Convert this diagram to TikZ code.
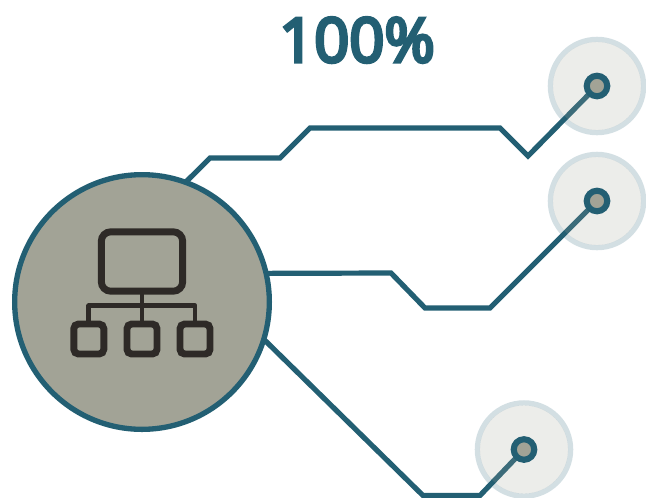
\documentclass[tikz,border=0pt]{standalone}
\usepackage{fontspec}
\newfontfamily\titlefont[FakeBold=5.5]{Open Sans}
\definecolor{teal}{HTML}{235F73}
\definecolor{stone}{HTML}{A2A396}
\definecolor{ink}{HTML}{2E2A27}
\pgfdeclarelayer{lines}
\pgfdeclarelayer{halos}
\pgfsetlayers{lines,halos,main}
\tikzset{
  hub/.style={circle,draw=teal,fill=stone,line width=4pt,minimum size=191pt,inner sep=0pt,outer sep=0pt},
  halo/.style={circle,fill=stone,fill opacity=.2,minimum size=66.2pt,inner sep=0pt,outer sep=0pt},
  ring/.style={draw=teal,draw opacity=.2,line width=3.9pt},
  dot/.style={circle,draw=teal,fill=stone,line width=4.6pt,minimum size=15.4pt,inner sep=0pt,outer sep=0pt},
  wire/.style={draw=teal,line width=3.9pt,line join=miter},
  bigbox/.style={draw=ink,line width=5.2pt,rounded corners=7pt,minimum width=61pt,minimum height=44.5pt,inner sep=0pt,outer sep=0pt},
  smallbox/.style={draw=ink,line width=5.2pt,rounded corners=3.5pt,minimum size=22.5pt,inner sep=0pt,outer sep=0pt},
  link/.style={draw=ink,line width=3.5pt,line join=round},
  title/.style={text=teal,font=\titlefont\fontsize{46}{46}\selectfont,anchor=base,inner sep=0pt}
}
\begin{document}
\begin{tikzpicture}[x=0.75pt,y=-0.75pt]
\useasboundingbox (0,0) rectangle (646,497);
\node[title] (pct) at (357,62) {100\%};
\node[hub] (main) at (142,302) {};
\node[bigbox] (top) at (142,261.5) {};
\node[smallbox] (s1) at (88.8,339) {};
\node[smallbox] (s2) at (142,339) {};
\node[smallbox] (s3) at (195,339) {};
\coordinate (bar) at (142,305.7);
\draw[link] (top.south) -- (s2.north);
\draw[link] (s1.north) -- (s1.north |- bar) -- (s3.north |- bar) -- (s3.north);
\node[dot] (d1) at (597,86) {};
\node[dot] (d2) at (597,201) {};
\node[dot] (d3) at (524,449.5) {};
\begin{pgfonlayer}{halos}
\node[halo] (h1) at (d1) {};
\node[halo] (h2) at (d2) {};
\node[halo] (h3) at (d3) {};
\draw[ring] (h1.center) circle[radius=35pt];
\draw[ring] (h2.center) circle[radius=35pt];
\draw[ring] (h3.center) circle[radius=35pt];
\end{pgfonlayer}
\begin{pgfonlayer}{lines}
\draw[wire] (main.70) -- (210,158) -- (280,158) -- (310,128) -- (500,128) -- (528,156) -- (d1.center);
\draw[wire] (main.13.15) -- (391,273) -- (425,308) -- (490,308) -- (d2.center);
\draw[wire] (main.-17) -- (423,495.5) -- (480,495.5) -- (d3.center);
\end{pgfonlayer}
\end{tikzpicture}
\end{document}
